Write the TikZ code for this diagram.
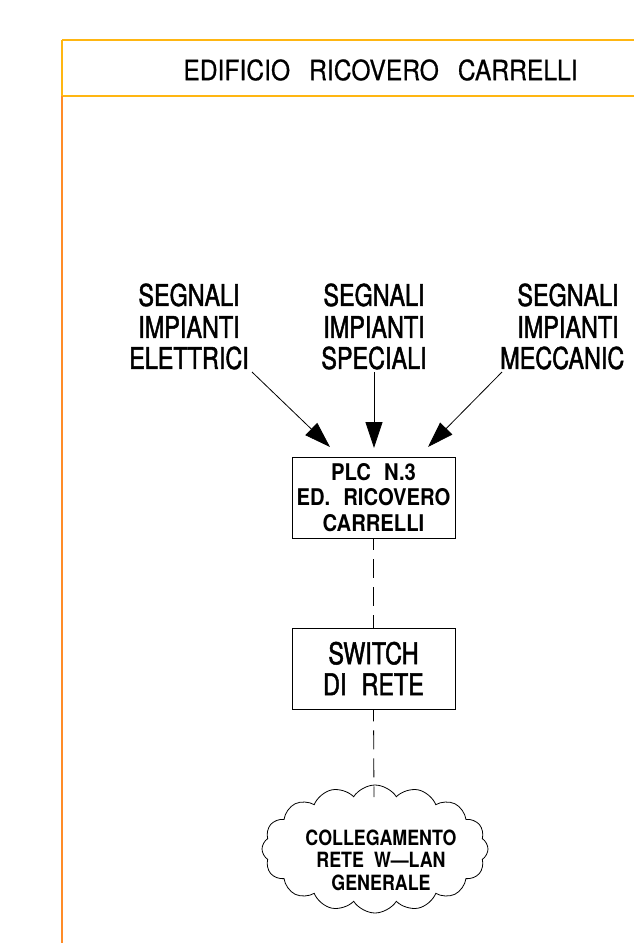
\documentclass[tikz,border=0pt]{standalone}
\usepackage{fontspec}
\usetikzlibrary{arrows.meta,shapes.symbols}
\newfontfamily\cadtitle[FakeStretch=0.88,FakeBold=0.6]{TeX Gyre Heros}
\newfontfamily\cadfont[FakeStretch=0.78,FakeBold=1.6]{TeX Gyre Heros}
\newfontfamily\cadbold[FakeStretch=0.85]{TeX Gyre Heros Bold}
\newfontfamily\cadboldw[FakeStretch=0.88]{TeX Gyre Heros Bold}
\definecolor{frameyel}{RGB}{255,182,18}
\definecolor{frameor}{RGB}{255,140,40}
\tikzset{
  lbl/.style={font=\cadfont\fontsize{30}{32}\selectfont, inner sep=0pt},
  boxtxt/.style={draw, line width=0.8pt, minimum width=163pt, minimum height=81pt, align=center, inner sep=0pt},
  sig/.style={line width=0.8pt, -{Triangle[length=26pt,width=17pt]}},
  lan/.style={line width=0.8pt, dash pattern=on 19pt off 9pt, dash phase=7pt},
}
\begin{document}
\begin{tikzpicture}[x=1pt,y=-1pt]
\useasboundingbox (0,0) rectangle (634,943);
% frame
\draw[frameyel, line width=2pt] (62,40) -- (634,40);
\draw[frameyel, line width=2pt] (62,96) -- (634,96);
\draw[frameyel, line width=2pt] (62,40) -- (62,96);
\draw[frameor, line width=2pt] (62,96) -- (62,943);
\node[font=\cadtitle\fontsize{28}{30}\selectfont, inner sep=0pt] (title) at (380.5,70)
  {EDIFICIO\hspace{19pt}RICOVERO\hspace{19pt}CARRELLI};
% signal labels
\node[lbl] (l1a) at (189,295) {SEGNALI};
\node[lbl] (l1b) at (189,327) {IMPIANTI};
\node[lbl] (l1c) at (189,358) {ELETTRICI};
\node[lbl] (l2a) at (374,295) {SEGNALI};
\node[lbl] (l2b) at (374,327) {IMPIANTI};
\node[lbl] (l2c) at (374,358) {SPECIALI};
\node[lbl] (l3a) at (568,295) {SEGNALI};
\node[lbl] (l3b) at (568,327) {IMPIANTI};
\node[lbl, anchor=west] (l3c) at (500,358) {MECCANIC};
% PLC box
\node[boxtxt, font=\cadboldw\fontsize{23}{25.5}\selectfont] (plc) at (373.5,497.5)
  {PLC\hspace{13pt}N.3\\ED.\hspace{13pt}RICOVERO\\CARRELLI};
% switch box
\node[boxtxt, font=\cadfont\fontsize{30}{31}\selectfont] (sw) at (373.5,668.5)
  {SWITCH\\DI\hspace{15pt}RETE};
% cloud
\node[cloud, draw, line width=0.8pt, cloud puffs=16, cloud puff arc=115, aspect=1.75,
  minimum width=226pt, minimum height=128pt, inner sep=0pt] (cl) at (375,849) {};
\node[font=\cadbold\fontsize{21}{22.5}\selectfont, align=center, inner sep=0pt] (cltxt) at (381,860)
  {COLLEGAMENTO\\RETE\hspace{10pt}W—LAN\\GENERALE};
% arrows
\coordinate (s1) at (252,372); \coordinate (e1) at (330,447);
\coordinate (s2) at (374,372); \coordinate (e2) at (374,448);
\coordinate (s3) at (502,372); \coordinate (e3) at (428,447);
\draw[sig] (s1) -- (e1);
\draw[sig] (s2) -- (e2);
\draw[sig] (s3) -- (e3);
% dashed links
\draw[lan] (plc.south) -- (sw.north);
\draw[lan] (sw.south) -- (374,797) coordinate (ct);
\end{tikzpicture}
\end{document}
